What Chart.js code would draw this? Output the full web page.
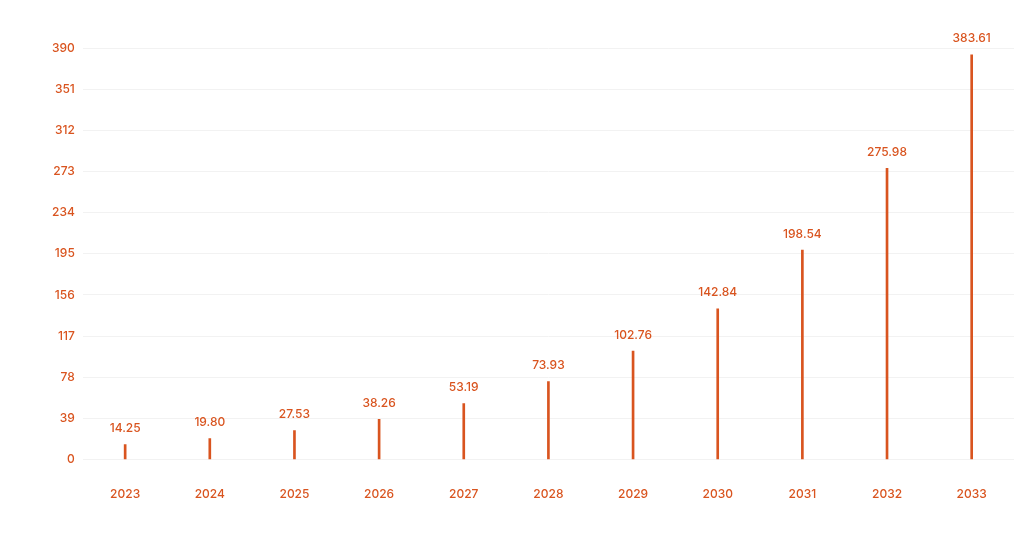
<!DOCTYPE html>
<html>
<head>
<script src="https://cdn.jsdelivr.net/npm/chart.js@4/dist/chart.umd.min.js"></script>
<style>body{margin:0;background:#fff}#wrap{width:1024px;height:539px}</style>
</head>
<body>
<div id="wrap"><canvas id="c"></canvas></div>
<script>
var years = ["2023","2024","2025","2026","2027","2028","2029","2030","2031","2032","2033"];
var values = [14.25, 19.80, 27.53, 38.26, 53.19, 73.93, 102.76, 142.84, 198.54, 275.98, 383.61];
var color = "#d9541f";

// value labels above each bar
var valueLabels = {
  id: "valueLabels",
  afterDatasetsDraw: function (chart) {
    var ctx = chart.ctx;
    var meta = chart.getDatasetMeta(0);
    ctx.save();
    ctx.fillStyle = color;
    ctx.font = "500 12px Inter, sans-serif";
    ctx.textAlign = "center";
    ctx.textBaseline = "bottom";
    meta.data.forEach(function (bar, i) {
      ctx.fillText(values[i].toFixed(2), bar.x, bar.y - 10);
    });
    ctx.restore();
  }
};

new Chart(document.getElementById("c"), {
  type: "bar",
  data: {
    labels: years,
    datasets: [{ data: values, backgroundColor: color, barThickness: 2 }]
  },
  options: {
    responsive: true,
    maintainAspectRatio: false,
    animation: false,
    layout: { padding: { top: 48, right: 10, bottom: 17, left: 44 } },
    plugins: { legend: { display: false }, tooltip: { enabled: false } },
    scales: {
      x: {
        grid: { display: false },
        border: { display: false },
        ticks: { color: color, font: { size: 12, weight: "500", family: "Inter, sans-serif" }, padding: 20 }
      },
      y: {
        min: 0, max: 390,
        grid: { color: "#f2f2f2", drawTicks: false },
        border: { display: false },
        ticks: { stepSize: 39, color: color, font: { size: 12, weight: "500", family: "Inter, sans-serif" }, padding: 8 }
      }
    }
  },
  plugins: [valueLabels]
});
</script>
</body>
</html>
